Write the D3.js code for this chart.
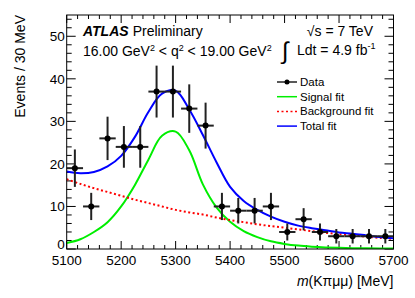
<!DOCTYPE html>
<html>
<head>
<meta charset="utf-8">
<script src="https://cdn.jsdelivr.net/npm/d3@7"></script>
<style>
  body { margin: 0; background: #fff; }
  text { font-family: "Liberation Sans", Arial, sans-serif; fill: #000; }
</style>
</head>
<body>
<div id="chart"></div>
<script>
const width = 415;
const height = 298;
const margin = { top: 15, right: 21.5, bottom: 49, left: 66.7 };
const plotW = width - margin.left - margin.right;
const plotH = height - margin.top - margin.bottom;

// data points (bin centres, 30 MeV bins)
const binCentres = [5115, 5145, 5175, 5205, 5235, 5265, 5295, 5325, 5355, 5385,
                    5415, 5445, 5475, 5505, 5535, 5565, 5595, 5625, 5655, 5685];
const counts = [19, 10, 26, 24, 24, 37, 37, 33, 29, 10, 9, 9, 10, 4, 7, 4, 3, 3, 3, 3];
const errors = [4.4, 3.2, 5.1, 4.9, 4.9, 6.1, 6.1, 5.7, 5.4, 3.2,
                3.0, 3.0, 3.2, 2.0, 2.6, 2.0, 1.7, 1.7, 1.7, 1.7];

// fit curves
const fitMass = [5100, 5125, 5150, 5175, 5200, 5225, 5250, 5275, 5300, 5325, 5350, 5375, 5400,
                 5425, 5450, 5475, 5500, 5525, 5550, 5575, 5600, 5625, 5650, 5675, 5700];
const signalFit = [1.4, 2.3, 4.0, 6.3, 10.0, 15.0, 21.0, 26.6, 27.6, 23.2, 15.2, 9.8, 6.4,
                   4.2, 2.8, 1.8, 1.2, 0.8, 0.55, 0.38, 0.27, 0.2, 0.15, 0.12, 0.1];
const backgroundFit = [16.4, 15.3, 14.3, 13.4, 12.5, 11.6, 10.8, 10.0, 9.2, 8.6, 8.1, 7.4, 6.8,
                       6.3, 5.8, 5.4, 5.0, 4.6, 4.2, 3.8, 3.5, 3.2, 2.9, 2.6, 2.4];
const totalFit = [18.2, 17.8, 18.1, 19.4, 21.9, 26.3, 32.2, 36.5, 37.2, 32.8, 26.8, 20.4, 14.6,
                  11.3, 9.2, 7.6, 6.4, 5.5, 4.9, 4.4, 3.9, 3.6, 3.2, 2.8, 2.5];

const xTicks = [5100, 5200, 5300, 5400, 5500, 5600, 5700];
const yTicks = [0, 10, 20, 30, 40, 50];

const legendItems = [
    { label: "Data", type: "data" },
    { label: "Signal fit", type: "line", color: "#00ee00", dash: null },
    { label: "Background fit", type: "line", color: "#ff0000", dash: "2,2.5" },
    { label: "Total fit", type: "line", color: "#0000ff", dash: null }
];

const svg = d3.select("#chart")
    .append("svg")
    .attr("width", width)
    .attr("height", height);

const x = d3.scaleLinear().domain([5100, 5700]).range([0, plotW]);
const y = d3.scaleLinear().domain([0, 55]).range([plotH, 0]);

const g = svg.append("g")
    .attr("transform", `translate(${margin.left},${margin.top})`);

g.append("clipPath").attr("id", "clip")
    .append("rect").attr("width", plotW).attr("height", plotH);

// ticks on all four sides, pointing inward
const minorX = d3.range(5100, 5701, 20);
const minorY = d3.range(0, 55.01, 2);

g.selectAll(".xminor")
    .data(minorX)
    .enter()
    .append("line")
    .attr("x1", d => x(d)).attr("x2", d => x(d))
    .attr("y1", plotH).attr("y2", d => plotH - (xTicks.includes(d) ? 8 : 4))
    .attr("stroke", "#000");
g.selectAll(".xminorTop")
    .data(minorX)
    .enter()
    .append("line")
    .attr("x1", d => x(d)).attr("x2", d => x(d))
    .attr("y1", 0).attr("y2", d => (xTicks.includes(d) ? 8 : 4))
    .attr("stroke", "#000");
g.selectAll(".yminor")
    .data(minorY)
    .enter()
    .append("line")
    .attr("y1", d => y(d)).attr("y2", d => y(d))
    .attr("x1", 0).attr("x2", d => (d % 10 === 0 ? 9 : 5))
    .attr("stroke", "#000");
g.selectAll(".yminorRight")
    .data(minorY)
    .enter()
    .append("line")
    .attr("y1", d => y(d)).attr("y2", d => y(d))
    .attr("x1", plotW).attr("x2", d => plotW - (d % 10 === 0 ? 9 : 5))
    .attr("stroke", "#000");

// tick labels
g.selectAll(".xlabel")
    .data(xTicks)
    .enter()
    .append("text")
    .attr("x", d => x(d))
    .attr("y", plotH + 15.5)
    .attr("text-anchor", "middle")
    .attr("font-size", "13.5px")
    .text(d => d);

g.selectAll(".ylabel")
    .data(yTicks)
    .enter()
    .append("text")
    .attr("x", -2)
    .attr("y", d => y(d) - (d === 0 ? 5 : 0))
    .attr("dy", "0.36em")
    .attr("text-anchor", "end")
    .attr("font-size", "13.5px")
    .text(d => d);

// axis titles
svg.append("text")
    .attr("transform", `translate(25,${margin.top}) rotate(-90)`)
    .attr("text-anchor", "end")
    .attr("font-size", "14px")
    .text("Events / 30 MeV");

const xTitle = svg.append("text")
    .attr("x", margin.left + plotW)
    .attr("y", 286)
    .attr("text-anchor", "end")
    .attr("font-size", "14px");
xTitle.append("tspan").attr("font-style", "italic").text("m");
xTitle.append("tspan").text("(Kπμμ) [MeV]");

// fit curves
const line = d3.line()
    .x((d, i) => x(fitMass[i]))
    .y(d => y(d))
    .curve(d3.curveCatmullRom.alpha(0.5));

const curves = g.append("g").attr("clip-path", "url(#clip)");

curves.append("path")
    .datum(signalFit)
    .attr("d", line)
    .attr("fill", "none")
    .attr("stroke", "#00ee00")
    .attr("stroke-width", 2);

curves.append("path")
    .datum(backgroundFit)
    .attr("d", line)
    .attr("fill", "none")
    .attr("stroke", "#ff0000")
    .attr("stroke-width", 2)
    .attr("stroke-dasharray", "2,2.5");

curves.append("path")
    .datum(totalFit)
    .attr("d", line)
    .attr("fill", "none")
    .attr("stroke", "#0000ff")
    .attr("stroke-width", 2);

// data points with error bars
const pts = g.append("g")
    .selectAll(".pt")
    .data(counts)
    .enter()
    .append("g");

pts.append("line")
    .attr("x1", (d, i) => x(binCentres[i] - 15))
    .attr("x2", (d, i) => x(binCentres[i] + 15))
    .attr("y1", d => y(d)).attr("y2", d => y(d))
    .attr("stroke", "#222")
    .attr("stroke-width", 2);

pts.append("line")
    .attr("x1", (d, i) => x(binCentres[i]))
    .attr("x2", (d, i) => x(binCentres[i]))
    .attr("y1", (d, i) => y(d - errors[i]))
    .attr("y2", (d, i) => y(d + errors[i]))
    .attr("stroke", "#222")
    .attr("stroke-width", 2);

pts.append("circle")
    .attr("cx", (d, i) => x(binCentres[i]))
    .attr("cy", d => y(d))
    .attr("r", 3)
    .attr("fill", "#000");

// frame
g.append("rect")
    .attr("width", plotW)
    .attr("height", plotH)
    .attr("fill", "none")
    .attr("stroke", "#000")
    .attr("stroke-width", 1);

// labels
const atlas = svg.append("text")
    .attr("x", 83)
    .attr("y", 36)
    .attr("font-size", "14px");
atlas.append("tspan").attr("font-weight", "bold").attr("font-style", "italic").text("ATLAS");
atlas.append("tspan").attr("dx", 4).text("Preliminary");

const qLabel = svg.append("text")
    .attr("x", 83)
    .attr("y", 56)
    .attr("font-size", "14px");
qLabel.append("tspan").text("16.00 GeV");
qLabel.append("tspan").attr("font-size", "9px").attr("dy", -5).text("2");
qLabel.append("tspan").attr("dy", 5).text(" < q");
qLabel.append("tspan").attr("font-size", "9px").attr("dy", -5).text("2");
qLabel.append("tspan").attr("dy", 5).text(" < 19.00 GeV");
qLabel.append("tspan").attr("font-size", "9px").attr("dy", -5).text("2");

svg.append("text")
    .attr("x", 373)
    .attr("y", 36)
    .attr("text-anchor", "end")
    .attr("font-size", "14px")
    .text("√s = 7 TeV");

svg.append("text")
    .attr("x", 282)
    .attr("y", 59)
    .attr("font-size", "24px")
    .attr("font-family", "DejaVu Sans")
    .text("∫");

const lumi = svg.append("text")
    .attr("x", 297)
    .attr("y", 55)
    .attr("font-size", "14px");
lumi.append("tspan").text("Ldt = 4.9 fb");
lumi.append("tspan").attr("font-size", "9px").attr("dy", -6).text("-1");

// legend
const legend = svg.append("g");
legendItems.forEach((item, i) => {
    const ly = 82 + i * 14.7;
    if (item.type === "data") {
        legend.append("line")
            .attr("x1", 277).attr("x2", 297)
            .attr("y1", ly).attr("y2", ly)
            .attr("stroke", "#222").attr("stroke-width", 1.5);
        legend.append("circle")
            .attr("cx", 287).attr("cy", ly).attr("r", 2.5).attr("fill", "#000");
    } else {
        legend.append("line")
            .attr("x1", 277).attr("x2", 297)
            .attr("y1", ly).attr("y2", ly)
            .attr("stroke", item.color).attr("stroke-width", 1.5)
            .attr("stroke-dasharray", item.dash);
    }
    legend.append("text")
        .attr("x", 300)
        .attr("y", ly)
        .attr("dy", "0.35em")
        .attr("font-size", "11.5px")
        .text(item.label);
});
</script>
</body>
</html>
